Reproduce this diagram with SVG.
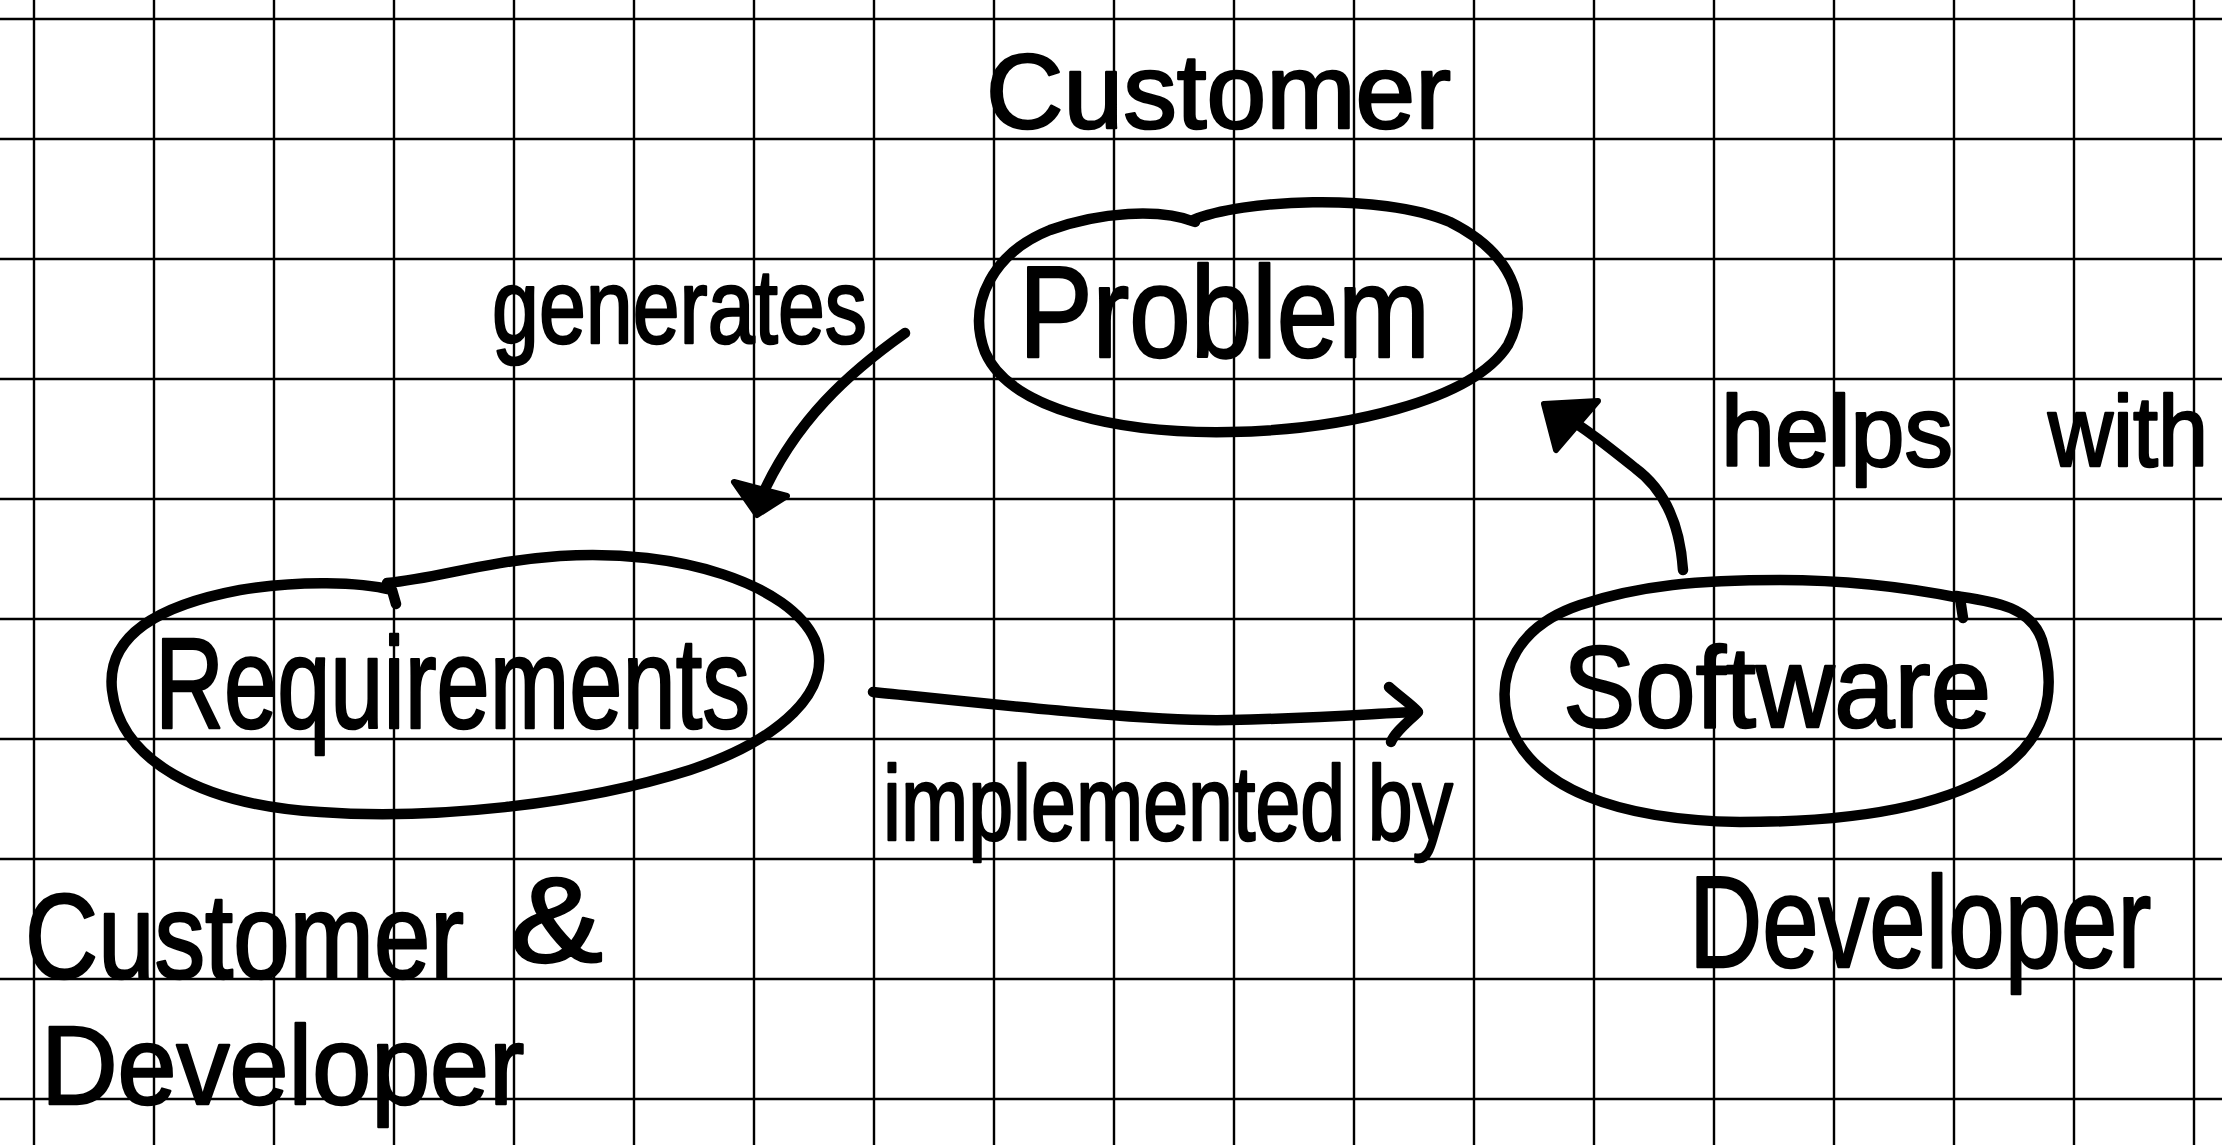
<svg xmlns="http://www.w3.org/2000/svg" width="2222" height="1145" viewBox="0 0 2222 1145">
  <defs>
    <style>
      .grid line { stroke: #000; stroke-width: 2.4; }
      .ink { fill: none; stroke: #000; stroke-width: 10.5; stroke-linecap: round; stroke-linejoin: round; }
      .head { fill: #000; stroke: #000; stroke-width: 6; stroke-linejoin: round; }
      .hand { font-family: "Liberation Sans", "DejaVu Sans", sans-serif; fill: #000; stroke: #000; stroke-width: 2.5; stroke-linejoin: round; }
    </style>
  </defs>

  <rect x="0" y="0" width="2222" height="1145" fill="#fff"/>

  <!-- squared paper, 120 px pitch -->
  <g class="grid" id="grid">
    <line x1="34" y1="0" x2="34" y2="1145"/>
    <line x1="154" y1="0" x2="154" y2="1145"/>
    <line x1="274" y1="0" x2="274" y2="1145"/>
    <line x1="394" y1="0" x2="394" y2="1145"/>
    <line x1="514" y1="0" x2="514" y2="1145"/>
    <line x1="634" y1="0" x2="634" y2="1145"/>
    <line x1="754" y1="0" x2="754" y2="1145"/>
    <line x1="874" y1="0" x2="874" y2="1145"/>
    <line x1="994" y1="0" x2="994" y2="1145"/>
    <line x1="1114" y1="0" x2="1114" y2="1145"/>
    <line x1="1234" y1="0" x2="1234" y2="1145"/>
    <line x1="1354" y1="0" x2="1354" y2="1145"/>
    <line x1="1474" y1="0" x2="1474" y2="1145"/>
    <line x1="1594" y1="0" x2="1594" y2="1145"/>
    <line x1="1714" y1="0" x2="1714" y2="1145"/>
    <line x1="1834" y1="0" x2="1834" y2="1145"/>
    <line x1="1954" y1="0" x2="1954" y2="1145"/>
    <line x1="2074" y1="0" x2="2074" y2="1145"/>
    <line x1="2194" y1="0" x2="2194" y2="1145"/>
    <line x1="0" y1="19" x2="2222" y2="19"/>
    <line x1="0" y1="139" x2="2222" y2="139"/>
    <line x1="0" y1="259" x2="2222" y2="259"/>
    <line x1="0" y1="379" x2="2222" y2="379"/>
    <line x1="0" y1="499" x2="2222" y2="499"/>
    <line x1="0" y1="619" x2="2222" y2="619"/>
    <line x1="0" y1="739" x2="2222" y2="739"/>
    <line x1="0" y1="859" x2="2222" y2="859"/>
    <line x1="0" y1="979" x2="2222" y2="979"/>
    <line x1="0" y1="1099" x2="2222" y2="1099"/>
  </g>

  <!-- Problem node -->
  <g id="node-problem">
    <path class="ink" d="M1193,220 C1240,200 1380,192 1450,222 C1510,252 1532,300 1508,345 C1472,402 1340,430 1230,432 C1120,434 1010,410 985,352 C966,302 995,252 1050,230 C1100,212 1160,208 1195,222"/>
    <text class="hand" x="1019" y="357" font-size="130" textLength="411" lengthAdjust="spacingAndGlyphs">Problem</text>
  </g>

  <!-- Requirements node -->
  <g id="node-requirements">
    <path class="ink" d="M387,583 C440,578 480,562 560,556 C680,548 790,585 815,640 C835,690 780,740 690,770 C580,805 430,820 320,812 C200,805 120,760 112,690 C106,635 160,605 240,590 C300,580 360,582 392,590 L396,604"/>
    <text class="hand" x="155" y="728" font-size="130" textLength="595" lengthAdjust="spacingAndGlyphs">Requirements</text>
  </g>

  <!-- Software node -->
  <g id="node-software">
    <path class="ink" d="M1956,596 C1995,602 2030,606 2042,640 C2060,700 2040,742 2000,770 C1940,810 1840,822 1740,822 C1620,820 1530,790 1508,720 C1495,670 1520,625 1580,605 C1640,585 1700,580 1780,580 C1860,580 1920,590 1960,598 L1963,618"/>
    <text class="hand" x="1563" y="727" font-size="115" textLength="428" lengthAdjust="spacingAndGlyphs">Software</text>
  </g>

  <!-- who owns each node (narrowed with a horizontal scale) -->
  <g id="role-customer">
    <text class="hand" x="986" y="128" font-size="105" textLength="465" lengthAdjust="spacingAndGlyphs">Customer</text>
  </g>
  <g id="role-customer-developer">
    <text class="hand" font-size="120" transform="translate(25,978) scale(0.844,1)" x="0" y="0">Customer</text>
    <text class="hand" font-size="120" transform="translate(510,962) scale(1.16,1)" x="0" y="0">&amp;</text>
    <text class="hand" font-size="112" transform="translate(41,1104) scale(0.947,1)" x="0" y="0">Developer</text>
  </g>
  <g id="role-developer">
    <text class="hand" font-size="130" transform="translate(1689,967) scale(0.78,1)" x="0" y="0">Developer</text>
  </g>

  <!-- connectors -->
  <g id="connectors">
    <g id="edge-generates">
      <path class="ink" d="M905,333 C850,372 795,420 760,500"/>
      <polygon class="head" points="734,482 787,496 757,515"/>
      <text class="hand" x="492" y="343" font-size="105" textLength="375" lengthAdjust="spacingAndGlyphs">generates</text>
    </g>
    <g id="edge-implemented-by">
      <path class="ink" d="M873,692 C1000,705 1150,722 1230,720 C1330,718 1380,713 1416,712"/>
      <path class="ink" d="M1389,687 C1400,697 1412,705 1418,712 C1408,722 1395,732 1391,742"/>
      <text class="hand" x="883" y="840" font-size="105" textLength="570" lengthAdjust="spacingAndGlyphs">implemented by</text>
    </g>
    <g id="edge-helps-with">
      <path class="ink" d="M1683,570 C1680,525 1665,490 1635,468 C1610,448 1585,428 1558,412"/>
      <polygon class="head" points="1544,404 1598,401 1556,450"/>
      <text class="hand" font-size="100"><tspan x="1721" y="466" textLength="232" lengthAdjust="spacingAndGlyphs">helps</tspan><tspan x="2048" y="466" textLength="160" lengthAdjust="spacingAndGlyphs">with</tspan></text>
    </g>
  </g>
</svg>
